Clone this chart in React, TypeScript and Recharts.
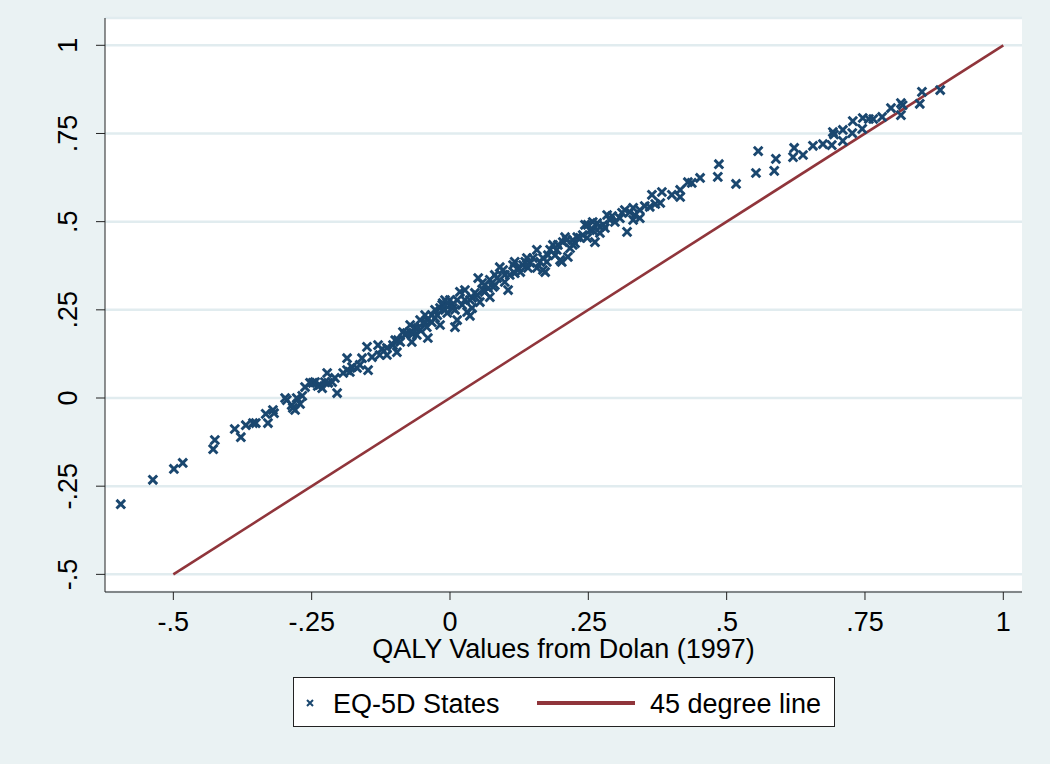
import React from 'react';
import { ScatterChart, Scatter, XAxis, YAxis, CartesianGrid } from 'recharts';

// Dolan (1997) QALY values (x) vs EQ-5D predicted values (y)
const dolanX: number[] = [
  -0.595, -0.537, -0.499, -0.483, -0.428, -0.425, -0.389, -0.378, -0.369, -0.356,
  -0.351, -0.333, -0.329, -0.320, -0.318, -0.298, -0.295, -0.286, -0.284, -0.280,
  -0.277, -0.271, -0.267, -0.262, -0.253, -0.248, -0.244, -0.239, -0.235, -0.231,
  -0.226, -0.222, -0.220, -0.213, -0.204, -0.208, -0.193, -0.186, -0.186, -0.177,
  -0.168, -0.159, -0.150, -0.148, -0.141, -0.130, -0.123, -0.114, -0.114, -0.103,
  -0.096, -0.094, -0.090, -0.085, -0.081, -0.078, -0.072, -0.069, -0.067, -0.063,
  -0.058, -0.054, -0.054, -0.045, -0.042, -0.042, -0.040, -0.033, -0.033, -0.027,
  -0.023, -0.018, -0.018, -0.014, -0.013, -0.009, -0.005, -0.005, 0.000, 0.004,
  0.005, 0.009, 0.013, 0.013, 0.018, 0.022, 0.027, 0.031, 0.036, 0.036,
  0.040, 0.045, 0.049, 0.051, 0.054, 0.058, 0.060, 0.063, 0.069, 0.072,
  0.072, 0.078, 0.081, 0.085, 0.090, 0.096, 0.099, 0.105, 0.108, 0.114,
  0.117, 0.123, 0.127, 0.132, 0.136, 0.141, 0.145, 0.150, 0.157, 0.157,
  0.163, 0.168, 0.168, 0.172, 0.177, 0.181, 0.190, 0.193, 0.195, 0.199,
  0.202, 0.208, 0.204, 0.211, 0.213, 0.222, 0.222, 0.226, 0.230, 0.235,
  0.240, 0.244, 0.248, 0.253, 0.258, 0.258, 0.262, 0.266, 0.271, 0.271,
  0.277, 0.280, 0.289, 0.293, 0.298, 0.307, 0.311, 0.320, 0.325, 0.331,
  0.331, 0.334, 0.343, 0.343, 0.352, 0.361, 0.365, 0.371, 0.380, 0.383,
  0.401, 0.416, 0.416, 0.430, 0.437, 0.452, 0.484, 0.486, 0.517, 0.553,
  0.557, 0.586, 0.589, 0.620, 0.622, 0.638, 0.656, 0.674, 0.690, 0.692,
  0.694, 0.710, 0.710, 0.727, 0.728, 0.745, 0.746, 0.757, 0.765, 0.781,
  0.797, 0.815, 0.815, 0.818, 0.849, 0.853, 0.886,
  0.009, -0.009, -0.027, -0.045, -0.072, -0.099, 0.063, 0.081, 0.099, 0.117,
  0.139, 0.175, 0.186, 0.217, 0.249, 0.284, 0.316, 0.027, 0.040, -0.060,
  -0.127, -0.163, -0.181,
];

const eq5dY: number[] = [
  -0.301, -0.232, -0.201, -0.184, -0.145, -0.119, -0.088, -0.111, -0.077, -0.071,
  -0.071, -0.045, -0.071, -0.034, -0.043, 0.000, -0.006, -0.020, -0.028, -0.034,
  0.000, -0.017, 0.006, 0.031, 0.043, 0.043, 0.045, 0.034, 0.037, 0.028,
  0.045, 0.071, 0.043, 0.045, 0.014, 0.057, 0.071, 0.113, 0.079, 0.088,
  0.085, 0.113, 0.145, 0.079, 0.116, 0.150, 0.139, 0.142, 0.122, 0.150,
  0.130, 0.164, 0.159, 0.187, 0.179, 0.184, 0.187, 0.159, 0.184, 0.198,
  0.198, 0.193, 0.221, 0.215, 0.201, 0.221, 0.170, 0.215, 0.235, 0.227,
  0.235, 0.255, 0.207, 0.264, 0.269, 0.250, 0.241, 0.269, 0.278, 0.264,
  0.255, 0.201, 0.278, 0.221, 0.301, 0.264, 0.278, 0.244, 0.233, 0.278,
  0.284, 0.298, 0.292, 0.340, 0.272, 0.326, 0.306, 0.301, 0.312, 0.286,
  0.335, 0.315, 0.320, 0.340, 0.371, 0.363, 0.329, 0.306, 0.349, 0.377,
  0.354, 0.369, 0.357, 0.377, 0.386, 0.369, 0.383, 0.397, 0.369, 0.420,
  0.386, 0.397, 0.363, 0.357, 0.405, 0.420, 0.405, 0.420, 0.434, 0.391,
  0.386, 0.456, 0.442, 0.448, 0.400, 0.448, 0.434, 0.439, 0.456, 0.454,
  0.462, 0.491, 0.454, 0.476, 0.499, 0.476, 0.442, 0.496, 0.485, 0.468,
  0.491, 0.482, 0.505, 0.516, 0.499, 0.510, 0.525, 0.471, 0.527, 0.539,
  0.505, 0.519, 0.533, 0.510, 0.544, 0.542, 0.576, 0.550, 0.553, 0.584,
  0.576, 0.590, 0.570, 0.612, 0.610, 0.624, 0.627, 0.663, 0.607, 0.638,
  0.700, 0.644, 0.678, 0.683, 0.709, 0.689, 0.715, 0.720, 0.717, 0.754,
  0.747, 0.760, 0.729, 0.751, 0.785, 0.763, 0.794, 0.791, 0.791, 0.797,
  0.822, 0.836, 0.802, 0.830, 0.834, 0.868, 0.873,
  0.250, 0.278, 0.250, 0.235, 0.207, 0.164, 0.320, 0.349, 0.349, 0.386,
  0.397, 0.386, 0.434, 0.425, 0.491, 0.519, 0.533, 0.306, 0.255, 0.179,
  0.122, 0.094, 0.074,
];

const lineX: number[] = [-0.5, 1];
const lineY: number[] = [-0.5, 1];

const axisTicks: number[] = [-0.5, -0.25, 0, 0.25, 0.5, 0.75, 1];
const tickLabels: string[] = ['-.5', '-.25', '0', '.25', '.5', '.75', '1'];

const points = dolanX.map((x, i) => ({ x, y: eq5dY[i] }));
const lineData = lineX.map((x, i) => ({ x, y: lineY[i] }));

const NAVY = '#1a476f';
const MAROON = '#90353b';
const BG = '#eaf2f3';
const FONT = '"Liberation Sans", Arial, sans-serif';
const FS = 27;

const fmt = (v: number) => {
  const i = axisTicks.findIndex((t) => Math.abs(t - v) < 1e-9);
  return i >= 0 ? tickLabels[i] : String(v);
};

const XMark = (props: any) => {
  const { cx, cy } = props;
  if (cx == null || cy == null) return <g />;
  const h = 4.3;
  return (
    <path
      d={`M${cx - h},${cy - h}L${cx + h},${cy + h}M${cx - h},${cy + h}L${cx + h},${cy - h}`}
      stroke={NAVY}
      strokeWidth={2.9}
      fill="none"
    />
  );
};

const NoMark = () => <g />;

const XTick = (props: any) => {
  const { x, y, payload } = props;
  return (
    <text x={x} y={y + 29} textAnchor="middle" fontSize={FS} fontFamily={FONT} fill="#000">
      {fmt(payload.value)}
    </text>
  );
};

const YTick = (props: any) => {
  const { x, y, payload } = props;
  const bx = x - 17;
  return (
    <text
      x={bx}
      y={y}
      textAnchor="middle"
      fontSize={FS}
      fontFamily={FONT}
      fill="#000"
      transform={`rotate(-90, ${bx}, ${y})`}
    >
      {fmt(payload.value)}
    </text>
  );
};

export default function App() {
  return (
    <div
      style={{
        position: 'absolute',
        left: 0,
        top: 0,
        width: 1050,
        height: 764,
        background: BG,
        fontFamily: FONT,
      }}
    >
      <ScatterChart width={1050} height={764} margin={{ top: 18, right: 28, bottom: 0, left: 0 }}>
        <CartesianGrid vertical={false} fill="#ffffff" stroke="#e1ecef" strokeWidth={2.5} />
        <XAxis
          type="number"
          dataKey="x"
          domain={[-0.6235, 1.0338]}
          allowDataOverflow
          ticks={axisTicks}
          interval={0}
          height={172}
          tickSize={8}
          tickMargin={2}
          stroke="#222"
          tickLine={{ stroke: '#222' }}
          tick={<XTick />}
          label={{
            value: 'QALY Values from Dolan (1997)',
            position: 'insideTop',
            offset: 47,
            fontSize: FS,
            fontFamily: FONT,
            fill: '#000',
          }}
        />
        <YAxis
          type="number"
          dataKey="y"
          domain={[-0.55, 1.0774]}
          allowDataOverflow
          ticks={axisTicks}
          interval={0}
          width={105}
          tickSize={9}
          tickMargin={2}
          stroke="#222"
          tickLine={{ stroke: '#222' }}
          tick={<YTick />}
        />
        <Scatter
          name="45 degree line"
          data={lineData}
          line={{ stroke: MAROON, strokeWidth: 2.6 }}
          lineType="joint"
          shape={<NoMark />}
          isAnimationActive={false}
        />
        <Scatter name="EQ-5D States" data={points} shape={<XMark />} isAnimationActive={false} />
      </ScatterChart>
      <div
        style={{
          position: 'absolute',
          left: 293,
          top: 677,
          width: 540,
          height: 48,
          border: '1px solid #222',
          background: '#ffffff',
        }}
      >
        <svg width={540} height={48} style={{ position: 'absolute', left: 0, top: 0 }}>
          <path d="M13,22L19,28M13,28L19,22" stroke={NAVY} strokeWidth={2} fill="none" />
          <text x={39} y={35} fontSize={FS} fontFamily={FONT} fill="#000">
            EQ-5D States
          </text>
          <line x1={243} y1={25} x2={341} y2={25} stroke={MAROON} strokeWidth={4} />
          <text x={356} y={35} fontSize={FS} fontFamily={FONT} fill="#000">
            45 degree line
          </text>
        </svg>
      </div>
    </div>
  );
}
